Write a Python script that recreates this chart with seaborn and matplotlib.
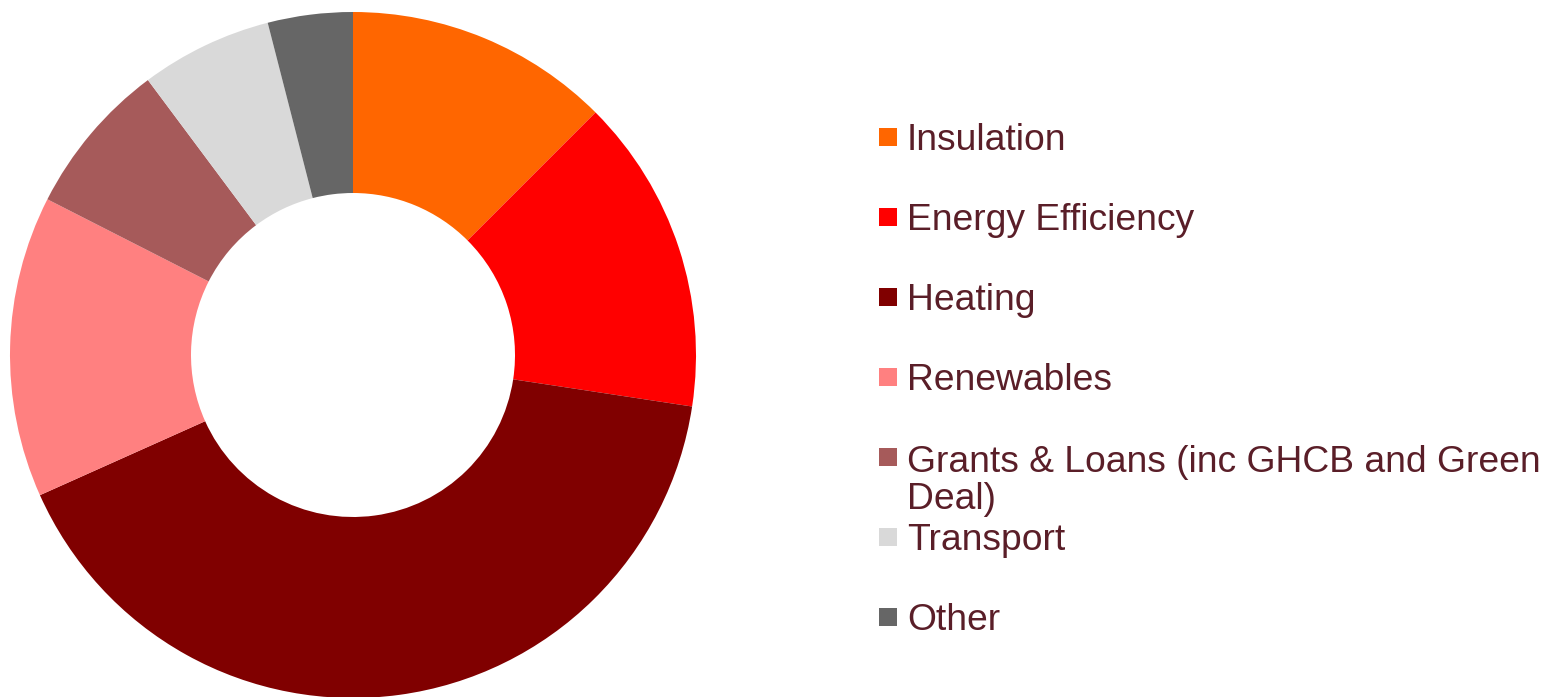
import numpy as np
import matplotlib
matplotlib.use("Agg")
import matplotlib.pyplot as plt
from matplotlib.patches import Rectangle
import seaborn as sns

categories = ["Insulation", "Energy Efficiency", "Heating", "Renewables",
              "Grants & Loans (inc GHCB and Green\nDeal)", "Transport", "Other"]
shares = [12.5, 14.9, 40.9, 14.2, 7.3, 6.2, 4.0]
colors = ["#FF6600", "#FF0000", "#800000", "#FF8080", "#A65A5A", "#D9D9D9", "#666666"]
text_color = "#5A1E28"

sns.set_theme(style="white")
plt.rcParams["font.family"] = ["Liberation Sans", "DejaVu Sans"]

W, H = 1546, 697
fig = plt.figure(figsize=(W / 100, H / 100), dpi=100)

# donut
cx, cy, r = 353, 355, 343
ax = fig.add_axes([(cx - r) / W, (H - cy - r) / H, 2 * r / W, 2 * r / H])
ax.pie(shares, colors=colors, startangle=90, counterclock=False, radius=1,
       wedgeprops=dict(width=(343 - 162) / 343, linewidth=0))
ax.set_xlim(-1, 1)
ax.set_ylim(-1, 1)
ax.set_aspect("equal")
ax.axis("off")

# legend, drawn by hand to keep the even row spacing
y0, step = 137, 80
fs, ls = 26.8, 1.08
line_px = fs * ls * 100 / 72
for i, (lab, col) in enumerate(zip(categories, colors)):
    yc = y0 + i * step
    fig.patches.append(Rectangle((879 / W, (H - yc - 9) / H), 18 / W, 18 / H,
                                 transform=fig.transFigure, facecolor=col,
                                 edgecolor="none"))
    extra = lab.count("\n") * line_px / 2
    fig.text(907 / W, (H - yc + 1 - extra) / H, lab, fontsize=fs, color=text_color,
             ha="left", va="center_baseline", linespacing=ls)

fig.savefig("out.png", dpi=100)
